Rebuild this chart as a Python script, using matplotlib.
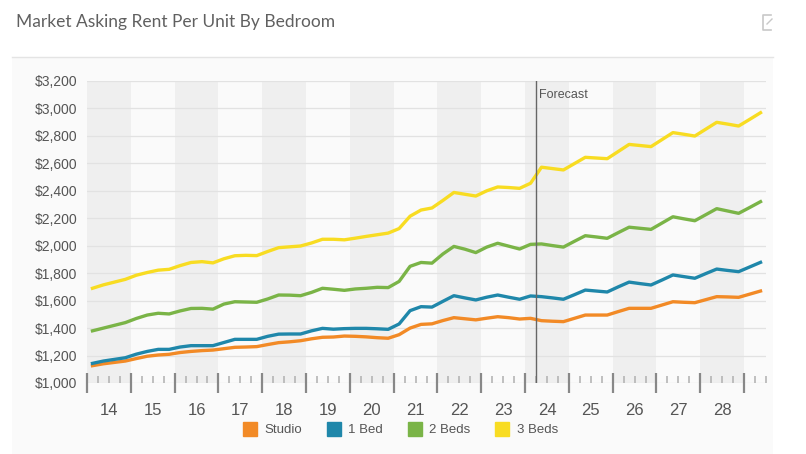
import numpy as np
import matplotlib
matplotlib.use("Agg")
import matplotlib.pyplot as plt
from matplotlib.lines import Line2D
from matplotlib.patches import Rectangle

# quarterly series, 2014 Q1 .. 2029 Q2
years = list(range(14, 29))
forecast_start = 41  # quarter index where the forecast begins

studio = [1126, 1140, 1150, 1160, 1178, 1195, 1204, 1209, 1222, 1230, 1236, 1240,
          1250, 1260, 1262, 1265, 1280, 1294, 1300, 1308, 1322, 1333, 1335, 1342,
          1340, 1336, 1330, 1326, 1352, 1400, 1427, 1431, 1455, 1476, 1468, 1460,
          1472, 1483, 1476, 1466, 1471, 1454, 1450, 1447, 1471, 1495, 1495, 1495,
          1520, 1544, 1544, 1544, 1568, 1592, 1588, 1585, 1607, 1629, 1627, 1624,
          1647, 1670]
one_bed = [1143, 1160, 1172, 1184, 1210, 1230, 1245, 1245, 1262, 1272, 1272, 1272,
           1295, 1318, 1318, 1318, 1340, 1356, 1357, 1357, 1380, 1398, 1392, 1396,
           1398, 1398, 1395, 1391, 1430, 1527, 1556, 1553, 1595, 1636, 1620, 1605,
           1625, 1641, 1625, 1610, 1634, 1629, 1620, 1610, 1643, 1677, 1670, 1663,
           1700, 1735, 1724, 1714, 1750, 1787, 1775, 1763, 1797, 1830, 1820, 1811,
           1845, 1879]
two_beds = [1380, 1400, 1420, 1440, 1470, 1495, 1508, 1503, 1525, 1543, 1544, 1538,
            1575, 1592, 1590, 1588, 1612, 1641, 1640, 1636, 1660, 1690, 1683, 1675,
            1685, 1690, 1697, 1695, 1740, 1850, 1878, 1873, 1940, 1995, 1975, 1950,
            1990, 2018, 1997, 1976, 2010, 2013, 2001, 1990, 2032, 2073, 2064, 2054,
            2095, 2135, 2127, 2119, 2165, 2211, 2196, 2182, 2226, 2270, 2253, 2236,
            2278, 2321]
three_beds = [1690, 1715, 1735, 1755, 1785, 1805, 1822, 1828, 1855, 1878, 1884, 1875,
              1905, 1927, 1930, 1928, 1958, 1986, 1992, 1998, 2020, 2047, 2047, 2043,
              2055, 2068, 2080, 2092, 2125, 2215, 2260, 2275, 2330, 2388, 2375, 2362,
              2400, 2428, 2424, 2418, 2455, 2572, 2562, 2552, 2598, 2644, 2639, 2634,
              2686, 2738, 2730, 2722, 2773, 2824, 2812, 2799, 2849, 2899, 2886, 2872,
              2920, 2969]

series = [('Studio', studio, '#f28a26'),
          ('1 Bed', one_bed, '#1f87aa'),
          ('2 Beds', two_beds, '#7ab447'),
          ('3 Beds', three_beds, '#f8dc22')]

txt = '#555555'
fig = plt.figure(figsize=(8.06, 4.54), dpi=100)
fig.patch.set_facecolor('white')

# panel background and title rule
fig.patches.append(Rectangle((12/806, 0), (773-12)/806, 1-57/454, transform=fig.transFigure,
                             facecolor='#fafafa', edgecolor='none', zorder=-10))
fig.add_artist(Line2D([12/806, 773/806], [1-57/454, 1-57/454], color='#e4e4e4', lw=1))
fig.text(16/806, 1-22/454, 'Market Asking Rent Per Unit By Bedroom', fontsize=12.5,
         family=['Lato', 'DejaVu Sans'], fontweight='normal', color='#606060',
         va='center', ha='left')
# export icon
fig.add_artist(Line2D([771/806, 763/806, 763/806, 771/806],
                      [1-15/454, 1-15/454, 1-30/454, 1-30/454], color='#c8c8c8', lw=1.2))
fig.add_artist(Line2D([767/806, 772/806], [1-24/454, 1-19/454], color='#c8c8c8', lw=1))

ax = fig.add_axes([87/806, 1-383/454, (766-87)/806, (383-81)/454])
ax.set_facecolor('#fafafa')
n = len(studio)
ax.set_xlim(0, n)
ax.set_ylim(1000, 3200)

# alternating year bands
for i, yr in enumerate(years):
    if i % 2 == 0:
        ax.axvspan(i*4, i*4+4, color='#efefef', lw=0, zorder=0)

for y in range(1000, 3201, 200):
    ax.axhline(y, color='#e2e2e2', lw=0.9, zorder=1)

x = np.arange(n) + 0.5
for name, vals, col in series:
    ax.plot(x, vals, color=col, lw=2.4, zorder=3, solid_joinstyle='round')

ax.axvline(forecast_start, color='#666666', lw=1, zorder=4)
ax.text(forecast_start + 0.3, 3095, 'Forecast', fontsize=9, color=txt,
        family=['Liberation Sans'], va='center', ha='left', zorder=5)

for s in ax.spines.values():
    s.set_visible(False)

ax.set_yticks(range(1000, 3201, 200))
ax.set_yticklabels(['${:,}'.format(v) for v in range(1000, 3201, 200)],
                   fontsize=10, color=txt, family='Liberation Sans')
ax.tick_params(axis='y', length=0, pad=7)

ax.set_xticks([i*4 for i in range(len(years)+1)])
ax.set_xticklabels([])
ax.set_xticks([q for q in range(0, n+1) if q % 4 != 0], minor=True)
ax.tick_params(axis='x', which='major', direction='inout', length=15, width=1.6, color='#888888')
ax.tick_params(axis='x', which='minor', direction='in', length=5, width=1.2, color='#b5b5b5')
for i, yr in enumerate(years):
    ax.text(i*4 + 2, -0.09, str(yr), transform=ax.get_xaxis_transform(), fontsize=12,
            color=txt, family='Liberation Sans', ha='center', va='center')

handles = [Line2D([], [], marker='s', ls='none', markersize=10, markerfacecolor=c,
                  markeredgecolor=c, label=nm) for nm, _, c in series]
leg = fig.legend(handles=handles, loc='center', bbox_to_anchor=(400/806, 1-430/454), ncol=4,
                 frameon=False, handlelength=1.2, handletextpad=0.5, columnspacing=1.8,
                 prop={'family': 'Liberation Sans', 'size': 9.5})
for t in leg.get_texts():
    t.set_color(txt)

fig.savefig('out.png', dpi=100)
